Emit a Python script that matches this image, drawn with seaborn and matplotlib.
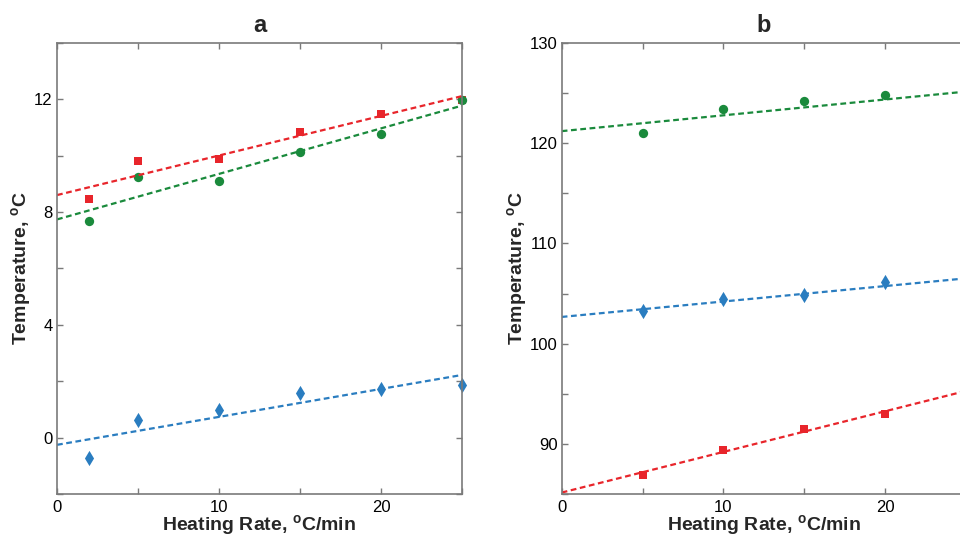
import matplotlib
matplotlib.use("Agg")
import matplotlib.pyplot as plt
import seaborn as sns
import pandas as pd
from matplotlib.ticker import MultipleLocator

# Panel a data
rate_a = [2, 5, 10, 15, 20, 25]
red_a = [8.45, 9.81, 9.90, 10.83, 11.49, 11.96]
green_a = [7.67, 9.26, 9.11, 10.12, 10.76, 11.96]
blue_a = [-0.71, 0.62, 0.98, 1.60, 1.74, 1.87]

# Panel b data (the 25 point sits past the cropped right edge)
rate_b = [5, 10, 15, 20, 25]
red_b = [86.94, 89.40, 91.50, 93.02, 95.27]
green_b = [121.04, 123.46, 124.23, 124.83, 124.30]
blue_b = [103.22, 104.46, 104.82, 106.16, 106.22]

sns.set_style("ticks")
plt.rcParams['font.family'] = ['Liberation Sans', 'DejaVu Sans']
plt.rcParams['mathtext.fontset'] = 'custom'
plt.rcParams['mathtext.rm'] = 'Liberation Sans'
plt.rcParams['mathtext.bf'] = 'Liberation Sans:bold'

RED = '#e8252b'
GREEN = '#1a8a3c'
BLUE = '#2a7dc0'
SPINE = '#7a7a7a'

fig = plt.figure(figsize=(9.6, 5.4), dpi=100)
ax_a = fig.add_axes([0.0594, 0.0852, 0.4219, 0.8352])
ax_b = fig.add_axes([0.5851, 0.0852, 0.4211, 0.8352])

# marker size per shape
sizes = {'s': 36, 'o': 45, 'd': 60}

panels = [
    (ax_a, 'a', rate_a, [(red_a, RED, 's'), (green_a, GREEN, 'o'), (blue_a, BLUE, 'd')],
     (-2, 14), 4, 2),
    (ax_b, 'b', rate_b, [(red_b, RED, 's'), (green_b, GREEN, 'o'), (blue_b, BLUE, 'd')],
     (85, 130), 10, 5),
]

for ax, title, rate, series, ylim, ymaj, ymin in panels:
    ax.set_xlim(0, 25)
    ax.set_ylim(*ylim)
    for vals, color, marker in series:
        df = pd.DataFrame({'rate': rate, 'temp': vals})
        sns.regplot(data=df, x='rate', y='temp', ax=ax, ci=None, truncate=False,
                    marker=marker, color=color,
                    scatter_kws={'s': sizes[marker], 'clip_on': False, 'linewidths': 0, 'alpha': 1},
                    line_kws={'linestyle': (0, (2.6, 1.6)), 'linewidth': 1.6})
    ax.set_xlim(0, 25)
    ax.set_ylim(*ylim)
    ax.xaxis.set_major_locator(MultipleLocator(10))
    ax.xaxis.set_minor_locator(MultipleLocator(5))
    ax.yaxis.set_major_locator(MultipleLocator(ymaj))
    ax.yaxis.set_minor_locator(MultipleLocator(ymin))
    ax.tick_params(which='both', direction='in', top=True, right=True,
                   length=4, width=1, color=SPINE, labelsize=12, labelcolor='black')
    ax.tick_params(axis='x', pad=4)
    ax.tick_params(axis='y', pad=3)
    for sp in ax.spines.values():
        sp.set_color(SPINE)
        sp.set_linewidth(1.2)
    ax.set_title(title, fontsize=17, fontweight='bold', pad=8)
    ax.set_xlabel(r'Heating Rate, $^{\mathbf{o}}$C/min', fontsize=14, fontweight='bold', labelpad=-1)
    ax.set_ylabel(r'Temperature, $^{\mathbf{o}}$C', fontsize=14, fontweight='bold', labelpad=0)

fig.savefig('out.png', dpi=100)
